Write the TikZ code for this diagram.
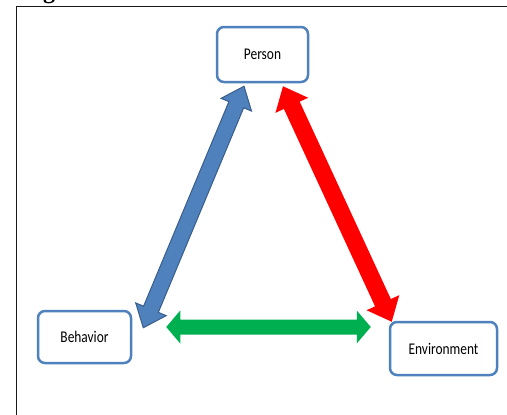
\documentclass[tikz,border=0pt]{standalone}
\usepackage{fontspec}
\setmainfont{Liberation Serif}
\newfontfamily\boxfont{Carlito}
\usetikzlibrary{calc}
\definecolor{boxblue}{RGB}{79,129,189}
\definecolor{darkblue}{RGB}{56,93,138}
\definecolor{arrowgreen}{RGB}{0,176,80}
\definecolor{framegray}{RGB}{25,25,25}
\tikzset{
  box/.style={draw=boxblue, line width=2.5pt, rounded corners=7pt, fill=white,
    inner sep=0pt, font=\boxfont\fontsize{13.4}{14}\selectfont},
  bluearrow/.style={fill=boxblue, draw=darkblue, line width=1pt, line join=miter},
  redarrow/.style={fill=red},
  greenarrow/.style={fill=arrowgreen},
  frameline/.style={draw=framegray, line width=1.5pt}
}
\newcommand\dblarrow[6]{%
  \coordinate (p1) at ($(#2)!#6!(#3)$);
  \coordinate (p2) at ($(#3)!#6!(#2)$);
  \path[#1] (#2) -- ($(p1)!#5!90:(#3)$) -- ($(p1)!#4!90:(#3)$)
    -- ($(p2)!#4!-90:(#2)$) -- ($(p2)!#5!-90:(#2)$) -- (#3)
    -- ($(p2)!#5!90:(#2)$) -- ($(p2)!#4!90:(#2)$)
    -- ($(p1)!#4!-90:(#3)$) -- ($(p1)!#5!-90:(#3)$) -- cycle;
}
\begin{document}
\begin{tikzpicture}[x=1pt,y=-1pt]
\useasboundingbox (0,0) rectangle (507,415);
% heading fragment
\node[anchor=base, inner sep=0pt, font=\bfseries\fontsize{24}{24}\selectfont] (head) at (49,-1.5) {g};
% frame
\draw[frameline] (16.5,415) -- (16.5,6.5) -- (507,6.5);
% boxes
\node[box, minimum width=91pt, minimum height=55pt] (person) at (262.5,54.5) {\scalebox{1}[1.22]{Person}};
\node[box, minimum width=93pt, minimum height=52pt] (beh) at (84.5,337) {\scalebox{1}[1.22]{Behavior}};
\node[box, minimum width=107pt, minimum height=53pt] (env) at (443.5,348.5) {\scalebox{1}[1.22]{Environment}};
% arrow end points
\coordinate (bA) at ([shift={(11,18)}]beh.north east);
\coordinate (bB) at ([shift={(-18.5,3)}]person.south);
\coordinate (rA) at ([shift={(20.5,3)}]person.south);
\coordinate (rB) at ([shift={(3,1)}]env.north west);
\coordinate (gA) at ([shift={(34,-10)}]beh.east);
\coordinate (gB) at ([shift={(-18,-21.5)}]env.west);
% arrows
\dblarrow{bluearrow}{bA}{bB}{8pt}{16.5pt}{20pt}
\dblarrow{redarrow}{rA}{rB}{8.7pt}{18pt}{21pt}
\dblarrow{greenarrow}{gA}{gB}{7.5pt}{16.5pt}{14pt}
\end{tikzpicture}
\end{document}
